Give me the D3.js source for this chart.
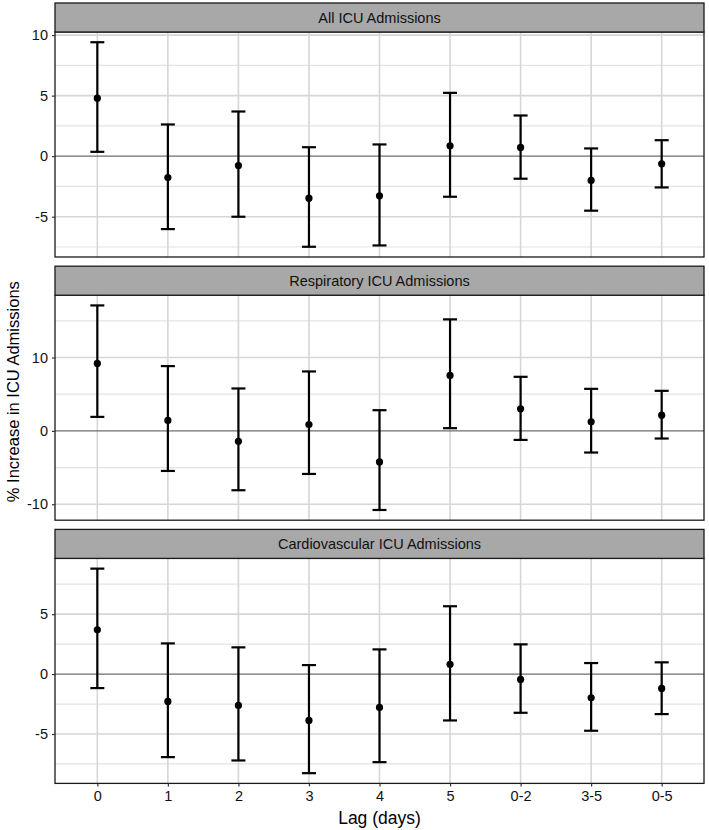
<!DOCTYPE html>
<html>
<head>
<meta charset="utf-8">
<script src="https://cdn.jsdelivr.net/npm/d3@7"></script>
<style>
body { margin: 0; background: #fff; }
text { font-family: "Liberation Sans", Arial, sans-serif; }
</style>
</head>
<body>
<script>
// Lag categories and panel titles
var lags = ["0", "1", "2", "3", "4", "5", "0-2", "3-5", "0-5"];
var panels = ["All ICU Admissions", "Respiratory ICU Admissions", "Cardiovascular ICU Admissions"];

// estimates, lower and upper bounds, one list per panel
var allEst = [4.79, -1.76, -0.77, -3.47, -3.27, 0.86, 0.72, -2.0, -0.63];
var allLow = [0.36, -6.02, -5.0, -7.48, -7.37, -3.35, -1.86, -4.5, -2.58];
var allHigh = [9.41, 2.62, 3.69, 0.74, 0.97, 5.23, 3.36, 0.64, 1.32];

var respEst = [9.19, 1.42, -1.41, 0.87, -4.23, 7.56, 3.0, 1.23, 2.14];
var respLow = [1.91, -5.46, -8.09, -5.87, -10.78, 0.37, -1.23, -2.95, -1.04];
var respHigh = [17.1, 8.83, 5.78, 8.1, 2.82, 15.2, 7.37, 5.73, 5.46];

var cardEst = [3.70, -2.28, -2.62, -3.87, -2.78, 0.81, -0.45, -1.98, -1.20];
var cardLow = [-1.17, -6.93, -7.21, -8.27, -7.35, -3.87, -3.23, -4.73, -3.34];
var cardHigh = [8.80, 2.56, 2.23, 0.75, 2.06, 5.66, 2.48, 0.92, 0.98];

// y tick labels per panel
var allTicks = [-5, 0, 5, 10];
var respTicks = [-10, 0, 10];
var cardTicks = [-5, 0, 5];

var series = [
  {title: panels[0], est: allEst, low: allLow, high: allHigh, ticks: allTicks},
  {title: panels[1], est: respEst, low: respLow, high: respHigh, ticks: respTicks},
  {title: panels[2], est: cardEst, low: cardLow, high: cardHigh, ticks: cardTicks}
];

var width = 709, height = 830;
var left = 55, right = 704;
var stripH = 29, panelH = 225, step = 263.2, top0 = 3;

var svg = d3.select("body").append("svg")
    .attr("width", width)
    .attr("height", height);

var x = d3.scalePoint()
    .domain(lags)
    .range([left, right])
    .padding(0.6);

series.forEach(function(s, i) {
  var stripTop = top0 + i * step;
  var pTop = stripTop + stripH;
  var pBot = pTop + panelH;

  var lo = d3.min(s.low), hi = d3.max(s.high);
  var pad = (hi - lo) * 0.05;
  var y = d3.scaleLinear().domain([lo - pad, hi + pad]).range([pBot, pTop]);

  var g = svg.append("g");

  // minor grid (halfway between ticks)
  var stepT = s.ticks[1] - s.ticks[0];
  var minor = [];
  for (var t = s.ticks[0] - stepT / 2; t <= s.ticks[s.ticks.length - 1] + stepT / 2; t += stepT) {
    if (t > y.domain()[0] && t < y.domain()[1]) minor.push(t);
  }
  g.selectAll(".minor").data(minor).enter().append("line")
    .attr("x1", left).attr("x2", right)
    .attr("y1", function(d) { return y(d); })
    .attr("y2", function(d) { return y(d); })
    .attr("stroke", "#e3e3e3").attr("stroke-width", 1.2);

  // major grid
  g.selectAll(".major").data(s.ticks.filter(function(d) { return d !== 0; })).enter().append("line")
    .attr("x1", left).attr("x2", right)
    .attr("y1", function(d) { return y(d); })
    .attr("y2", function(d) { return y(d); })
    .attr("stroke", "#d6d6d6").attr("stroke-width", 1.6);

  g.selectAll(".vgrid").data(lags).enter().append("line")
    .attr("x1", function(d) { return x(d); })
    .attr("x2", function(d) { return x(d); })
    .attr("y1", pTop).attr("y2", pBot)
    .attr("stroke", "#d6d6d6").attr("stroke-width", 1.6);

  // zero line
  g.append("line")
    .attr("x1", left).attr("x2", right)
    .attr("y1", y(0)).attr("y2", y(0))
    .attr("stroke", "#6e6e6e").attr("stroke-width", 1.3);

  // error bars
  var idx = d3.range(lags.length);
  var capW = 7;
  g.selectAll(".bar").data(idx).enter().append("line")
    .attr("x1", function(d) { return x(lags[d]); })
    .attr("x2", function(d) { return x(lags[d]); })
    .attr("y1", function(d) { return y(s.low[d]); })
    .attr("y2", function(d) { return y(s.high[d]); })
    .attr("stroke", "#000").attr("stroke-width", 2.2);
  g.selectAll(".capLo").data(idx).enter().append("line")
    .attr("x1", function(d) { return x(lags[d]) - capW; })
    .attr("x2", function(d) { return x(lags[d]) + capW; })
    .attr("y1", function(d) { return y(s.low[d]); })
    .attr("y2", function(d) { return y(s.low[d]); })
    .attr("stroke", "#000").attr("stroke-width", 2.2);
  g.selectAll(".capHi").data(idx).enter().append("line")
    .attr("x1", function(d) { return x(lags[d]) - capW; })
    .attr("x2", function(d) { return x(lags[d]) + capW; })
    .attr("y1", function(d) { return y(s.high[d]); })
    .attr("y2", function(d) { return y(s.high[d]); })
    .attr("stroke", "#000").attr("stroke-width", 2.2);
  g.selectAll(".pt").data(idx).enter().append("circle")
    .attr("cx", function(d) { return x(lags[d]); })
    .attr("cy", function(d) { return y(s.est[d]); })
    .attr("r", 3.6)
    .attr("fill", "#000");

  // panel border
  g.append("rect")
    .attr("x", left).attr("y", pTop)
    .attr("width", right - left).attr("height", panelH)
    .attr("fill", "none").attr("stroke", "#1a1a1a").attr("stroke-width", 1.3);

  // strip
  g.append("rect")
    .attr("x", left).attr("y", stripTop)
    .attr("width", right - left).attr("height", stripH)
    .attr("fill", "#a8a8a8").attr("stroke", "#1a1a1a").attr("stroke-width", 1.3);
  g.append("text")
    .text(s.title)
    .attr("x", (left + right) / 2)
    .attr("y", stripTop + stripH / 2 + 5)
    .attr("text-anchor", "middle")
    .style("font-size", "14.5px")
    .style("fill", "#111");

  // y axis
  var yAxis = g.append("g")
    .attr("transform", "translate(" + left + ",0)")
    .call(d3.axisLeft(y).tickValues(s.ticks).tickSize(3).tickPadding(4).tickFormat(function(d) { return String(d); }));
  yAxis.select(".domain").remove();
  yAxis.selectAll(".tick line").attr("stroke", "#333").attr("stroke-width", 1.2);
  yAxis.selectAll(".tick text")
    .style("font-size", "14.5px")
    .style("font-family", "'Liberation Sans', Arial, sans-serif")
    .attr("fill", "#111");

  // x axis on bottom panel
  if (i === series.length - 1) {
    var xAxis = g.append("g")
      .attr("transform", "translate(0," + pBot + ")")
      .call(d3.axisBottom(x).tickSize(3).tickPadding(4));
    xAxis.select(".domain").remove();
    xAxis.selectAll(".tick line").attr("stroke", "#333").attr("stroke-width", 1.2);
    xAxis.selectAll(".tick text")
      .style("font-size", "14.5px")
      .style("font-family", "'Liberation Sans', Arial, sans-serif")
      .attr("fill", "#111");
  }
});

// axis titles
svg.append("text")
  .text("Lag (days)")
  .attr("x", (left + right) / 2)
  .attr("y", 824)
  .attr("text-anchor", "middle")
  .style("font-size", "17.5px")
  .style("fill", "#000");

svg.append("text")
  .text("% Increase in ICU Admissions")
  .attr("transform", "translate(19," + (top0 + (2 * step + stripH + panelH)) / 2 + ") rotate(-90)")
  .attr("text-anchor", "middle")
  .style("font-size", "16.5px")
  .style("fill", "#000");
</script>
</body>
</html>
